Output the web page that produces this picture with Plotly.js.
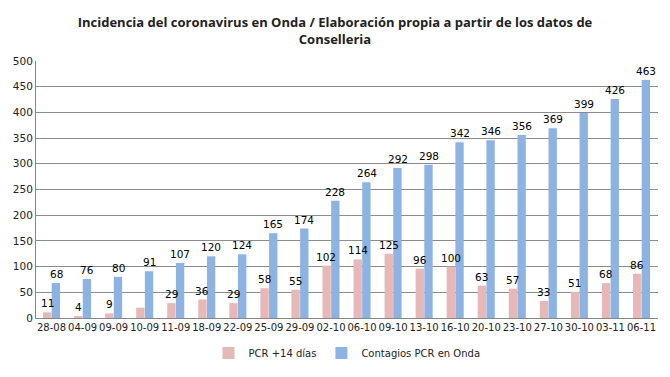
<!DOCTYPE html>
<html><head><meta charset="utf-8">
<script src="https://cdn.plot.ly/plotly-3.0.1.min.js"></script>
<style>html,body{margin:0;padding:0;background:#fff}#chart{width:670px;height:377px}</style>
</head><body><div id="chart"></div>
<script>
const categories = ["28-08","04-09","09-09","10-09","11-09","18-09","22-09","25-09","29-09","02-10","06-10","09-10","13-10","16-10","20-10","23-10","27-10","30-10","03-11","06-11"];
const pcr14 = [11,4,9,20,29,36,29,58,55,102,114,125,96,100,63,57,33,51,68,86];
const pcr14Labels = ["11","4","9","","29","36","29","58","55","102","114","125","96","100","63","57","33","51","68","86"];
const contagios = [68,76,80,91,107,120,124,165,174,228,264,292,298,342,346,356,369,399,426,463];
const yTicks = [0,50,100,150,200,250,300,350,400,450,500];

const lblFont = {family:"DejaVu Sans, Verdana, sans-serif", size:10.5, color:"#000"};
const data = [
  {type:"bar", name:"PCR +14 días", x:categories, y:pcr14,
   marker:{color:"#E6B9B8"}, hoverinfo:"none"},
  {type:"bar", name:"Contagios PCR en Onda", x:categories, y:contagios,
   marker:{color:"#8DB3E2"}, hoverinfo:"none"}
];
const annotations = [];
categories.forEach((c,i)=>{
  if (pcr14Labels[i]) annotations.push({x:c, y:pcr14[i], text:pcr14Labels[i], xref:"x", yref:"y",
    showarrow:false, yanchor:"bottom", xanchor:"center", xshift:-4.5, yshift:1, font:lblFont});
  annotations.push({x:c, y:contagios[i], text:String(contagios[i]), xref:"x", yref:"y",
    showarrow:false, yanchor:"bottom", xanchor:"center", xshift:4.5, yshift:1, font:lblFont});
});
const layout = {
  width:670, height:377,
  margin:{l:36, r:12, t:61, b:59},
  paper_bgcolor:"#fff", plot_bgcolor:"#fff",
  title:{text:"Incidencia del coronavirus en Onda / Elaboración propia a partir de los datos de<br>Conselleria",
    font:{family:"Open Sans, sans-serif", size:13, color:"#222", weight:"bold"},
    x:0.5, xanchor:"center", yref:"container", y:0.928, yanchor:"middle"},
  barmode:"group", bargap:0.44, bargroupgap:0.04,
  showlegend:true,
  legend:{orientation:"h", x:0.5, xanchor:"center", yref:"container", y:0.025, yanchor:"bottom",
    font:{family:"DejaVu Sans, Verdana, sans-serif", size:10, color:"#222"}, itemwidth:30, traceorder:"normal"},
  annotations:annotations,
  xaxis:{type:"category", tickangle:0, tickfont:{family:"DejaVu Sans, Verdana, sans-serif", size:10, color:"#222"},
    showline:true, linecolor:"#868686", linewidth:1, ticks:"", showgrid:false, fixedrange:true},
  yaxis:{range:[0,500], tickvals:yTicks, ticktext:yTicks.map(String),
    tickfont:{family:"DejaVu Sans, Verdana, sans-serif", size:10.5, color:"#222"},
    showgrid:true, gridcolor:"#8c8c8c", gridwidth:1, showline:true, linecolor:"#868686", linewidth:1,
    ticks:"", zeroline:false, fixedrange:true}
};
Plotly.newPlot("chart", data, layout, {staticPlot:true, displayModeBar:false});
</script></body></html>
